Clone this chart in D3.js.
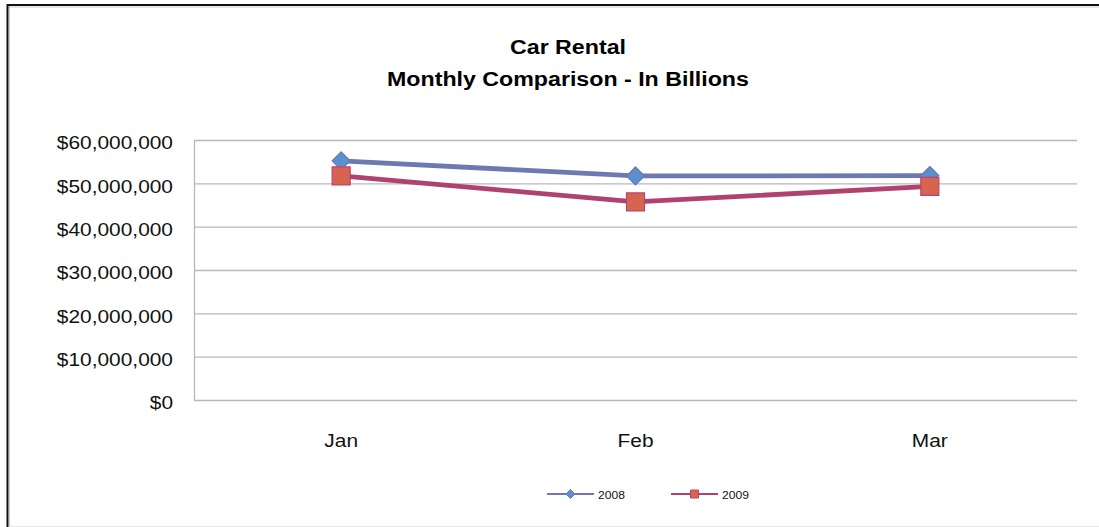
<!DOCTYPE html>
<html>
<head>
<meta charset="utf-8">
<script src="https://cdn.jsdelivr.net/npm/d3@7"></script>
<style>
  body { margin: 0; background: #fff; }
  svg { display: block; font-family: "Liberation Sans", Arial, sans-serif; }
</style>
</head>
<body>
<svg id="chart" width="1099" height="527"></svg>
<script>
// Data
var months = ['Jan', 'Feb', 'Mar'];
var sales2008 = [55200000, 51700000, 51800000];
var sales2009 = [51700000, 45700000, 49300000];
var yTicks = [0, 10000000, 20000000, 30000000, 40000000, 50000000, 60000000];
var seriesNames = ['2008', '2009'];

var svg = d3.select('#chart');

// The source picture is slightly stretched sideways, so text gets a small x-scale
var stretch = 1.13;

// Frame
  svg.append('line').attr('x1', 7).attr('x2', 1099).attr('y1', 5).attr('y2', 5)
    .attr('stroke', '#111').attr('stroke-width', 2);
  svg.append('line').attr('x1', 7).attr('x2', 1099).attr('y1', 7).attr('y2', 7)
    .attr('stroke', '#ccc').attr('stroke-width', 1);
  svg.append('line').attr('x1', 7.5).attr('x2', 7.5).attr('y1', 4).attr('y2', 527)
    .attr('stroke', '#111').attr('stroke-width', 2);
  svg.append('line').attr('x1', 9.5).attr('x2', 9.5).attr('y1', 6).attr('y2', 527)
    .attr('stroke', '#ccc').attr('stroke-width', 1);
  svg.append('line').attr('x1', 9).attr('x2', 1099).attr('y1', 526.5).attr('y2', 526.5)
    .attr('stroke', '#e6e6e6').attr('stroke-width', 1);

// Title
  var title = svg.append('text').attr('text-anchor', 'middle')
    .attr('transform', 'translate(568,0) scale(1.16,1)')
    .attr('font-weight', 'bold').attr('font-size', 20).attr('fill', '#000');
  title.append('tspan').attr('x', 0).attr('y', 54).text('Car Rental');
  title.append('tspan').attr('x', 0).attr('y', 86).text('Monthly Comparison - In Billions');

// Scales
  var plot = { left: 194, right: 1077, top: 140, bottom: 400 };
  var x = d3.scaleBand().domain(months).range([plot.left, plot.right]);
  var y = d3.scaleLinear().domain([0, 60000000]).range([plot.bottom, plot.top]);

// Gridlines
  svg.append('g').selectAll('line')
    .data(yTicks)
    .join('line')
      .attr('x1', plot.left).attr('x2', plot.right)
      .attr('y1', d => y(d) + 0.5).attr('y2', d => y(d) + 0.5)
      .attr('stroke', '#b8b8b8').attr('stroke-width', 1.3);

  svg.append('line')
    .attr('x1', plot.left + 0.5).attr('x2', plot.left + 0.5)
    .attr('y1', plot.top).attr('y2', plot.bottom)
    .attr('stroke', '#b8b8b8').attr('stroke-width', 1.3);

// Axes labels
  var yAxis = d3.axisLeft(y).tickValues(yTicks).tickSize(0)
    .tickFormat(d => '$' + d3.format(',')(d));
  svg.append('g').attr('transform', 'translate(' + plot.left + ',0)').call(yAxis)
    .call(g => g.select('.domain').remove())
    .selectAll('text')
      .attr('x', 0)
      .attr('transform', 'translate(-21,3) scale(' + stretch + ',1)')
      .attr('font-size', 18.5).attr('fill', '#111')
      .attr('font-family', '"Liberation Sans", Arial, sans-serif');

  var xAxis = d3.axisBottom(x).tickSize(0);
  svg.append('g').attr('transform', 'translate(0,' + plot.bottom + ')').call(xAxis)
    .call(g => g.select('.domain').remove())
    .selectAll('text')
      .attr('y', 0)
      .attr('transform', 'translate(0,34) scale(' + stretch + ',1)')
      .attr('font-size', 18.5).attr('fill', '#111')
      .attr('font-family', '"Liberation Sans", Arial, sans-serif');

// Series
  var diamond = {
    draw: function(context, size) {
      var r = Math.sqrt(size / 2);
      context.moveTo(0, -r);
      context.lineTo(r, 0);
      context.lineTo(0, r);
      context.lineTo(-r, 0);
      context.closePath();
    }
  };

  var series = [
    { name: seriesNames[0], values: sales2008, line: '#6d79b0', fill: '#5b8fcf', stroke: '#6d79b0', symbol: diamond, size: 162, legendSize: 40 },
    { name: seriesNames[1], values: sales2009, line: '#b0426f', fill: '#d7644f', stroke: '#b5466f', symbol: d3.symbolSquare, size: 324, legendSize: 64 }
  ];

  var line = d3.line()
    .x((d, i) => x(months[i]) + x.bandwidth() / 2)
    .y(d => y(d));

  series.forEach(s => {
    svg.append('path').datum(s.values)
      .attr('d', line)
      .attr('fill', 'none')
      .attr('stroke', s.line)
      .attr('stroke-width', 4.8)
      .attr('stroke-linejoin', 'round');
  });

  series.forEach(s => {
    svg.append('g').selectAll('path')
      .data(s.values)
      .join('path')
        .attr('transform', (d, i) => 'translate(' + (x(months[i]) + x.bandwidth() / 2) + ',' + y(d) + ')')
        .attr('d', d3.symbol().type(s.symbol).size(s.size))
        .attr('fill', s.fill)
        .attr('stroke', s.stroke)
        .attr('stroke-width', 1.2);
  });

// Legend
  var legend = svg.append('g').attr('font-size', 11.5).attr('fill', '#111');
  var legendX = [547, 671];
  series.forEach((s, i) => {
    var g = legend.append('g').attr('transform', 'translate(' + legendX[i] + ',494)');
    g.append('line').attr('x1', 0).attr('x2', 47).attr('y1', 0).attr('y2', 0)
      .attr('stroke', s.line).attr('stroke-width', 2);
    g.append('path').attr('transform', 'translate(23.5,0)')
      .attr('d', d3.symbol().type(s.symbol).size(s.legendSize))
      .attr('fill', s.fill).attr('stroke', s.stroke).attr('stroke-width', 1);
    g.append('text').attr('transform', 'translate(51,4.5) scale(1.05,1)').text(s.name);
  });
</script>
</body>
</html>
